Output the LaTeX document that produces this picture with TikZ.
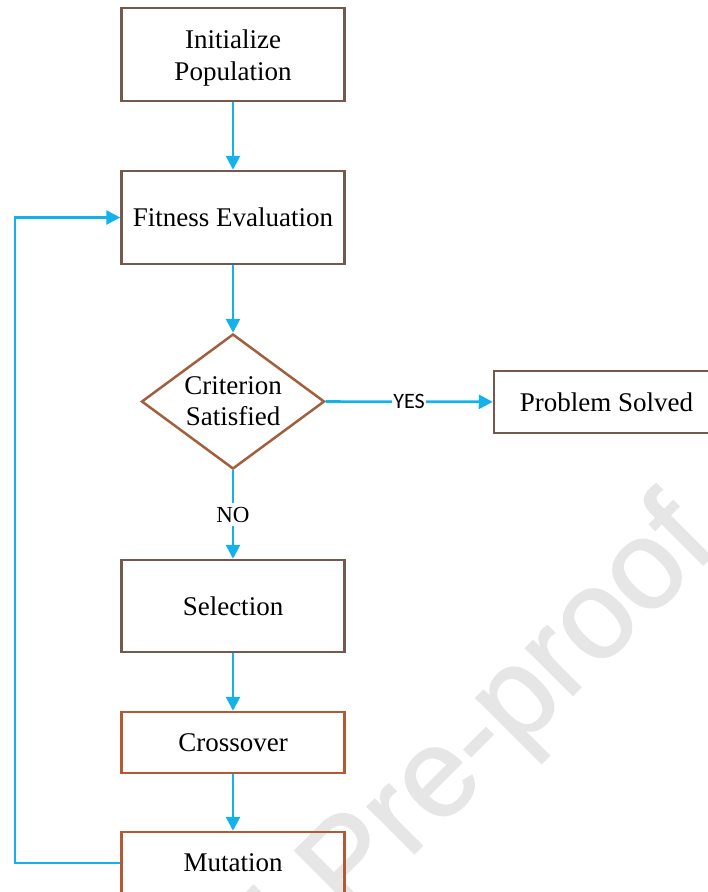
\documentclass[tikz,border=0pt]{standalone}
\usepackage{fontspec}
\setmainfont{Liberation Serif}
\newfontfamily\wmfont[FakeBold=1.2]{Liberation Sans}
\newfontfamily\lblfont{Carlito}
\usetikzlibrary{shapes.geometric,arrows.meta}

\definecolor{boxbrown}{HTML}{76594D}
\definecolor{boxrust}{HTML}{B25A34}
\definecolor{decbrown}{HTML}{A25F3E}
\definecolor{flowblue}{HTML}{14B2EA}
\definecolor{wmgray}{HTML}{E6E6E6}

\tikzset{
  stepbox/.style={draw=boxbrown, line width=2.5pt, rectangle,
    minimum width=223pt, inner sep=0pt, align=center,
    font=\fontsize{27}{32}\selectfont},
  rustbox/.style={stepbox, draw=boxrust},
  decision/.style={draw=decbrown, line width=2.5pt, diamond, aspect=1.36,
    minimum width=183pt, minimum height=135pt, inner sep=0pt, align=center,
    font=\fontsize{27}{31}\selectfont},
  flow/.style={draw=flowblue, line width=2.8pt,
    -{Triangle[width=14pt,length=14pt]}},
  yeslbl/.style={fill=white, inner sep=1pt, text=black,
    font=\lblfont\fontsize{22}{24}\selectfont},
  nolbl/.style={fill=white, inner sep=4pt, text=black,
    font=\fontsize{23}{25}\selectfont},
}

\begin{document}
\begin{tikzpicture}[x=1pt, y=-1pt]
  \useasboundingbox (0,0) rectangle (708,892);
  \clip (0,0) rectangle (708,892);
  \fill[white] (0,0) rectangle (708,892);

  % background watermark
  \node[rotate=45, anchor=base east, inner sep=0pt, text=wmgray,
        font=\wmfont\fontsize{126}{126}\selectfont] (wm) at (720.5,547.5)
        {Journal Pre-proof};

  % process steps
  \node[stepbox, minimum height=93pt] (init) at (233,54.5) {\rule{0pt}{25pt}Initialize\\Population};
  \node[stepbox, minimum height=93pt] (fit) at (233,217.5) {Fitness Evaluation};
  \node[decision] (crit) at (233,401.5) {Criterion\\Satisfied};
  \node[stepbox, minimum width=225pt, minimum height=62pt] (solved) at (606.5,402) {Problem Solved};
  \node[stepbox, minimum height=92pt] (sel) at (233,606) {Selection};
  \node[rustbox, minimum height=61pt] (cross) at (233,742.5) {Crossover};
  \node[rustbox, minimum height=62pt] (mut) at (233,863) {Mutation};

  \coordinate (loopx) at (15,0);

  % connectors
  \draw[flow] (init) -- (fit);
  \draw[flow] (fit) -- (crit);
  \draw[flow] (crit) -- node[yeslbl] {YES} (solved);
  \draw[flow] (crit) -- node[nolbl] {NO} (sel);
  \draw[flow] (sel) -- (cross);
  \draw[flow] (cross) -- (mut);
  \draw[flow] (mut.west) -- (mut.west -| loopx) |- (fit.west);
\end{tikzpicture}
\end{document}
